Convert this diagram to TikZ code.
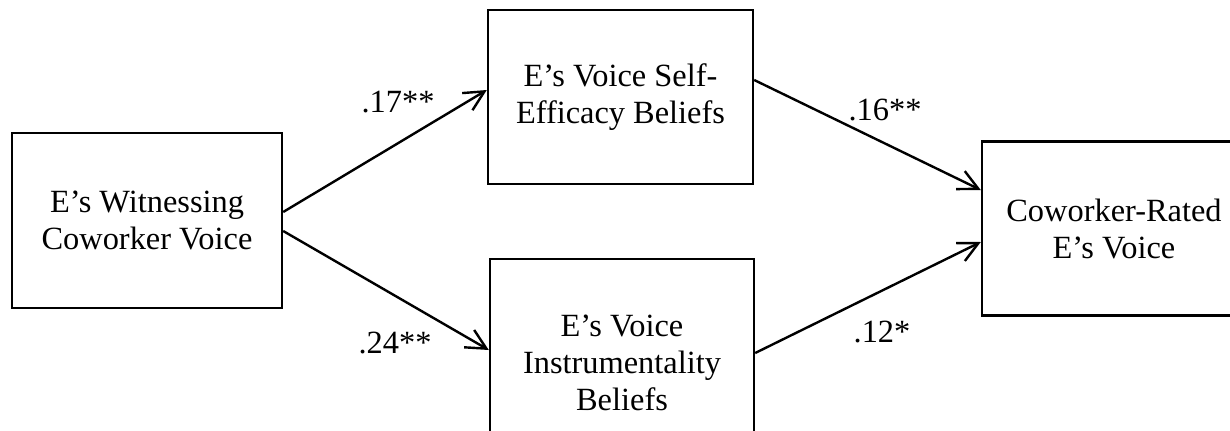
\documentclass[tikz,border=0pt]{standalone}
\usepackage{fontspec}
\setmainfont{Liberation Serif}
\usetikzlibrary{arrows.meta}
\usetikzlibrary{calc}
\tikzset{
  varbox/.style={rectangle, draw, line width=1.2pt, align=center,
    font=\fontsize{16.2}{18.5}\selectfont, inner sep=0pt},
  path/.style={line width=1.2pt, -{Straight Barb[length=10pt,width=10pt,line width=1.2pt]}},
  coef/.style={font=\fontsize{16.2}{18.5}\selectfont, inner sep=0pt}
}

\begin{document}
\begin{tikzpicture}[x=0.5pt, y=0.5pt]
    \clip (0,0) rectangle (1230,430);
    \node (witness) [varbox, minimum width=135pt, minimum height=87.5pt] at (147,209.5)
      {E’s Witnessing\\Coworker Voice};
    \node (efficacy) [varbox, minimum width=132.5pt, minimum height=87pt] at (620.5,333)
      {E’s Voice Self-\\Efficacy Beliefs};
    \node (instrument) [varbox, minimum width=132pt, minimum height=103.5pt] at (622,67.5)
      {E’s Voice\\Instrumentality\\Beliefs};
    \node (rated) [varbox, minimum width=132pt, minimum height=87pt] at (1114,201.5)
      {Coworker-Rated\\E’s Voice};

    \draw[path] ($(witness.east)+(0,8.5)$) -- ($(efficacy.west)+(0,7)$);
    \draw[path] ($(witness.east)+(0,-10.5)$) -- ($(instrument.west)+(0,12.5)$);
    \draw[path] ($(efficacy.east)+(0,17)$) -- ($(rated.west)+(0,38.5)$);
    \draw[path] ($(instrument.east)+(0,9.5)$) -- ($(rated.west)+(0,-13.5)$);

    \node (b17) [coef] at (398,328) {.17**};
    \node (b24) [coef] at (395,87) {.24**};
    \node (b16) [coef] at (885,320) {.16**};
    \node (b12) [coef] at (882,98) {.12*};
\end{tikzpicture}
\end{document}
